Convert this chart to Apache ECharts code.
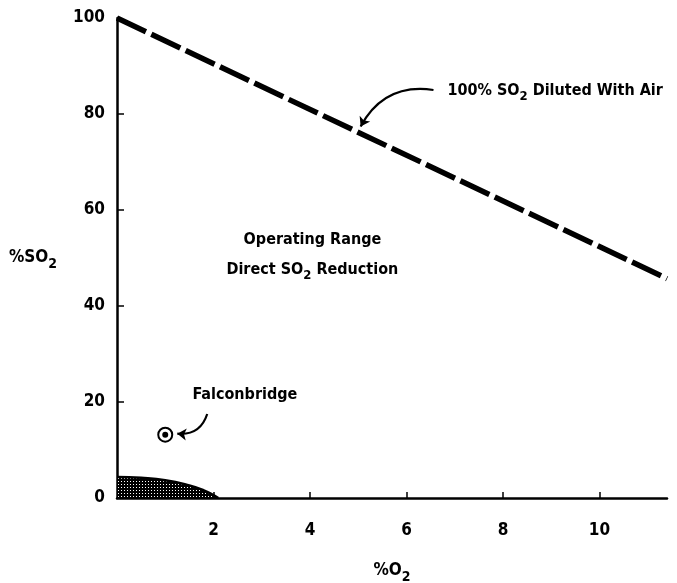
<!DOCTYPE html>
<html><head><meta charset="utf-8">
<script src="https://cdn.jsdelivr.net/npm/echarts@6/dist/echarts.min.js"></script>
<style>html,body{margin:0;padding:0;background:#fff}#c{width:677px;height:583px}</style>
</head><body><div id="c"></div>
<script>
// Data
const xTickValues = [2, 4, 6, 8, 10];
const yTickValues = [0, 20, 40, 60, 80, 100];
const dilutionLineO2 = [0, 11.4];
const dilutionLineSO2 = [100, 45.7];
const regionO2 = [0, 0.5, 1.0, 1.5, 1.8, 2.0, 2.1];
const regionSO2 = [4.4, 4.2, 3.7, 2.6, 1.6, 0.6, 0];
const falconO2 = [1.0];
const falconSO2 = [13.2];
const labelTexts = ['100% SO{s|2} Diluted With Air', 'Falconbridge', 'Operating Range', 'Direct SO{s|2} Reduction'];
const labelO2 = [6.85, 2.65, 4.05, 4.05];
const labelSO2 = [84.8, 21.4, 53.8, 47.5];
const arrowFrom = [[6.56, 85.0], [1.87, 17.5]];
const arrowTo = [[5.05, 77.4], [1.25, 13.4]];

const FONT = "'DejaVu Sans Condensed', 'Liberation Sans Narrow', sans-serif";

// hatch pattern
const pc = document.createElement('canvas');
pc.width = 3; pc.height = 3;
const pctx = pc.getContext('2d');
pctx.fillStyle = '#000'; pctx.fillRect(0,0,3,3);
pctx.fillStyle = '#fff'; pctx.fillRect(1,1,1,1);

const chart = echarts.init(document.getElementById('c'));
const rich = {
  n: { fontSize: 17, fontFamily: FONT, fontWeight: 'bold', color: '#000' },
  s: { fontSize: 14, fontFamily: FONT, fontWeight: 'bold', color: '#000', padding: [12, 0, 0, 0] }
};
const richSm = {
  n: { fontSize: 16, fontFamily: FONT, fontWeight: 'bold', color: '#000' },
  s: { fontSize: 13, fontFamily: FONT, fontWeight: 'bold', color: '#000', padding: [11, 0, 0, 0] }
};
const txt = { fontSize: 17, fontFamily: FONT, fontWeight: 'bold', color: '#000' };
const wrap = t => '{n|' + t.replace(/\{s\|2\}/g, '}{s|2}{n|') + '}';
chart.setOption({
  animation: false,
  grid: { left: 117, top: 18, right: 10, bottom: 85, outerBoundsMode: 'none', containLabel: false },
  xAxis: {
    type: 'value', min: 0, max: 11.4, interval: 2,
    name: wrap('%O{s|2}'), nameLocation: 'middle', nameGap: 60,
    nameTextStyle: Object.assign({ rich: rich }, txt),
    axisLine: { show: true, onZero: false, lineStyle: { color: '#000', width: 2.5 } },
    axisTick: { show: true, inside: true, length: 6, customValues: xTickValues, lineStyle: { color: '#000', width: 1.5 } },
    axisLabel: Object.assign({ margin: 24, customValues: xTickValues }, txt),
    splitLine: { show: false }
  },
  yAxis: {
    type: 'value', min: 0, max: 100, interval: 20,
    name: wrap('%SO{s|2}'), nameLocation: 'middle', nameGap: 60, nameRotate: 0,
    nameTextStyle: Object.assign({ rich: rich }, txt),
    axisLine: { show: true, onZero: false, lineStyle: { color: '#000', width: 2.5 } },
    axisTick: { show: true, inside: true, length: 7, customValues: [20, 40, 60, 80], lineStyle: { color: '#000', width: 1.5 } },
    axisLabel: Object.assign({ margin: 12, customValues: yTickValues }, txt),
    splitLine: { show: false }
  },
  series: [
    {
      type: 'line', smooth: true, symbol: 'none',
      data: regionO2.map((x, i) => [x, regionSO2[i]]),
      lineStyle: { color: '#000', width: 2.5 },
      areaStyle: { color: { image: pc, repeat: 'repeat' }, opacity: 1 }
    },
    {
      type: 'line', symbol: 'none',
      data: dilutionLineO2.map((x, i) => [x, dilutionLineSO2[i]]),
      lineStyle: { color: '#000', width: 5.5, type: [32, 6] }
    },
    {
      type: 'scatter', symbol: 'circle', symbolSize: 14,
      data: falconO2.map((x, i) => [x, falconSO2[i]]),
      itemStyle: { color: '#fff', borderColor: '#000', borderWidth: 2, opacity: 1 }, z: 5
    },
    {
      type: 'scatter', symbol: 'circle', symbolSize: 6,
      data: falconO2.map((x, i) => [x, falconSO2[i]]),
      itemStyle: { color: '#000', opacity: 1 }, z: 6
    },
    {
      type: 'lines', coordinateSystem: 'cartesian2d',
      symbol: ['none', 'arrow'], symbolSize: 9,
      data: [
        { coords: [arrowFrom[0], arrowTo[0]], lineStyle: { curveness: -0.35 } },
        { coords: [arrowFrom[1], arrowTo[1]], lineStyle: { curveness: 0.4 } }
      ],
      lineStyle: { color: '#000', width: 2.2, opacity: 1 }, z: 4
    },
    {
      type: 'scatter', symbolSize: 0,
      itemStyle: { opacity: 1 },
      data: labelTexts.map((t, i) => ({ value: [labelO2[i], labelSO2[i]], name: t,
        label: i === 0 ? { align: 'left' } : {} })),
      label: { show: true, formatter: p => wrap(p.name), rich: richSm, position: 'inside',
        fontSize: 16, fontFamily: FONT, fontWeight: 'bold', color: '#000' },
      z: 7
    }
  ]
});
</script></body></html>
